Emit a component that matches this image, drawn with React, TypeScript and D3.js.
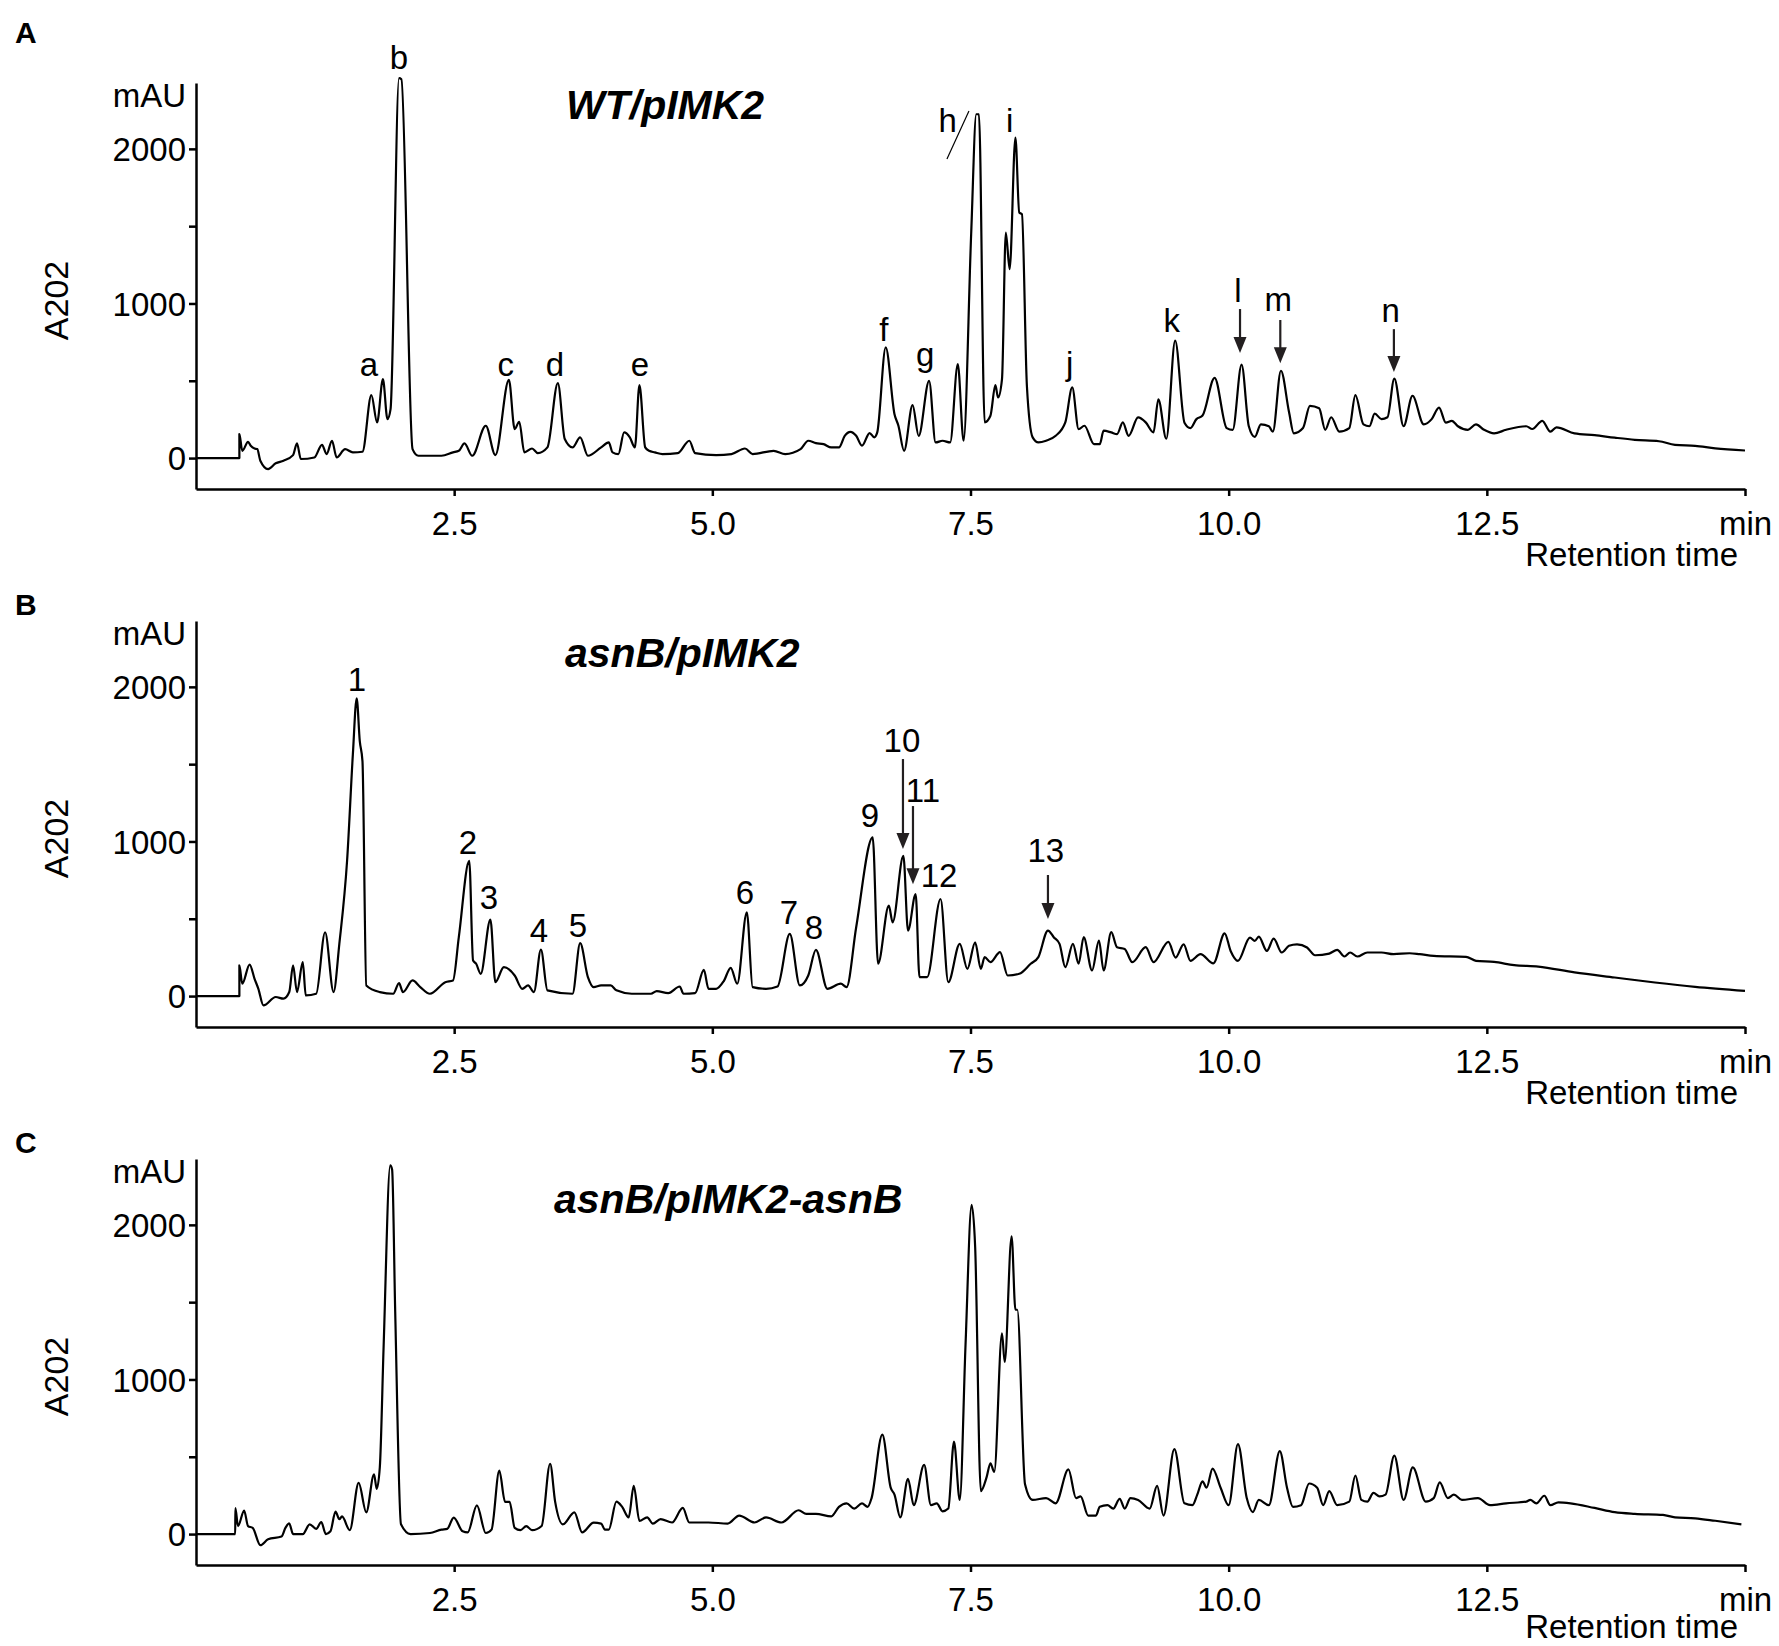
import React, { useEffect, useRef } from "react";
import * as d3 from "d3";

const W = 1779;
const H = 1646;
const FONT = "'Liberation Sans', Arial, Helvetica, sans-serif";

// [retention time (min), absorbance (mAU)]
const wtTrace: [number, number][] = [
  [0, 0], [0.42, 0], [0.42, 155], [0.448, 47], [0.504, 105], [0.53, 80], [0.567, 62], [0.593, 58],
  [0.623, -17], [0.698, -71], [0.772, -34], [0.847, -17], [0.94, 19], [0.978, 95], [1.015, -6],
  [1.146, 4], [1.22, 86], [1.265, 26], [1.317, 112], [1.362, 4], [1.444, 58], [1.519, 37], [1.612, 41],
  [1.698, 407], [1.754, 230], [1.81, 511], [1.854, 252], [1.884, 317], [1.966, 2457], [1.989, 2450],
  [2.097, 58], [2.153, 15], [2.377, 15], [2.489, 37], [2.545, 47], [2.6, 95], [2.675, 15], [2.806, 209],
  [2.899, 19], [3.03, 506], [3.086, 187], [3.13, 235], [3.18, 37], [3.254, 62], [3.31, 32], [3.403, 69],
  [3.504, 485], [3.571, 123], [3.646, 69], [3.72, 134], [3.795, 15], [3.923, 69], [3.997, 101],
  [4.034, 37], [4.09, 26], [4.146, 166], [4.201, 134], [4.25, 69], [4.294, 472], [4.35, 69], [4.387, 47],
  [4.443, 37], [4.517, 26], [4.666, 32], [4.777, 112], [4.833, 32], [5.037, 19], [5.186, 26], [5.316, 62],
  [5.39, 26], [5.594, 47], [5.706, 26], [5.854, 58], [5.929, 112], [6.003, 97], [6.077, 90], [6.152, 69],
  [6.226, 69], [6.282, 144], [6.337, 170], [6.393, 144], [6.449, 80], [6.523, 162], [6.568, 134],
  [6.597, 166], [6.679, 716], [6.764, 284], [6.802, 209], [6.857, 47], [6.939, 343], [6.998, 144],
  [7.099, 500], [7.162, 101], [7.229, 112], [7.303, 101], [7.377, 608], [7.433, 112], [7.507, 1459],
  [7.556, 2224], [7.582, 2224], [7.637, 231], [7.693, 274], [7.741, 472], [7.767, 392], [7.805, 511],
  [7.842, 1459], [7.879, 1222], [7.935, 2073], [7.972, 1588], [7.998, 1578], [8.046, 468], [8.102, 134],
  [8.158, 101], [8.232, 112], [8.325, 144], [8.418, 231], [8.485, 457], [8.547, 187], [8.603, 209],
  [8.696, 90], [8.752, 90], [8.789, 177], [8.863, 166], [8.919, 155], [8.975, 231], [9.031, 144],
  [9.123, 263], [9.197, 231], [9.272, 166], [9.319, 380], [9.396, 125], [9.482, 760], [9.572, 229],
  [9.63, 194], [9.688, 252], [9.747, 275], [9.864, 519], [9.981, 194], [10.039, 183], [10.125, 604],
  [10.195, 206], [10.253, 137], [10.312, 218], [10.389, 206], [10.428, 171], [10.506, 565], [10.584, 299],
  [10.631, 160], [10.72, 194], [10.787, 338], [10.876, 322], [10.935, 183], [10.993, 264], [11.071, 171],
  [11.168, 194], [11.227, 407], [11.305, 218], [11.363, 206], [11.414, 287], [11.48, 252], [11.538, 264],
  [11.604, 514], [11.694, 206], [11.78, 403], [11.889, 218], [11.966, 252], [12.037, 326], [12.103, 229],
  [12.161, 241], [12.22, 206], [12.317, 183], [12.395, 218], [12.473, 183], [12.57, 160], [12.687, 183],
  [12.882, 206], [12.94, 188], [13.037, 241], [13.115, 171], [13.174, 199], [13.349, 160], [13.544, 148],
  [13.738, 132], [13.933, 118], [14.167, 109], [14.322, 86], [14.517, 79], [14.712, 63], [15.0, 49],
];

const asnBTrace: [number, number][] = [
  [0, 0], [0.42, 0], [0.42, 198], [0.448, 80], [0.519, 204], [0.567, 112], [0.604, 47], [0.653, -60],
  [0.772, -6], [0.847, -17], [0.903, 26], [0.94, 198], [0.978, 26], [1.034, 219], [1.063, 4], [1.164, 15],
  [1.25, 413], [1.332, 26], [1.388, 338], [1.463, 875], [1.519, 1563], [1.556, 1925], [1.586, 1649],
  [1.612, 1520], [1.649, 69], [1.78, 26], [1.91, 15], [1.966, 84], [2.004, 26], [2.097, 101], [2.172, 58],
  [2.265, 15], [2.414, 90], [2.489, 101], [2.545, 381], [2.646, 875], [2.683, 230], [2.713, 209],
  [2.757, 144], [2.851, 495], [2.899, 90], [2.981, 187], [3.086, 133], [3.16, 47], [3.216, 69], [3.272, 26],
  [3.34, 301], [3.403, 37], [3.646, 15], [3.72, 342], [3.795, 123], [3.851, 58], [3.923, 69], [4.016, 69],
  [4.071, 37], [4.22, 15], [4.406, 15], [4.461, 32], [4.573, 19], [4.684, 62], [4.721, 15], [4.833, 19],
  [4.918, 170], [4.963, 47], [5.037, 47], [5.111, 97], [5.178, 183], [5.241, 80], [5.334, 542], [5.39, 58],
  [5.52, 47], [5.631, 62], [5.75, 402], [5.847, 69], [5.929, 133], [6.003, 299], [6.114, 47], [6.244, 80],
  [6.3, 58], [6.393, 445], [6.553, 1026], [6.605, 209], [6.709, 585], [6.746, 477], [6.85, 907],
  [6.895, 424], [6.969, 660], [7.006, 123], [7.08, 123], [7.21, 628], [7.285, 90], [7.396, 338],
  [7.47, 176], [7.545, 348], [7.6, 176], [7.637, 252], [7.693, 219], [7.786, 284], [7.86, 133],
  [7.972, 144], [8.083, 209], [8.157, 252], [8.25, 424], [8.306, 381], [8.362, 338], [8.418, 187],
  [8.492, 338], [8.547, 209], [8.596, 381], [8.677, 166], [8.744, 359], [8.789, 166], [8.863, 413],
  [8.919, 316], [8.993, 305], [9.067, 219], [9.197, 316], [9.272, 219], [9.416, 350], [9.486, 249],
  [9.564, 335], [9.63, 228], [9.727, 271], [9.852, 211], [9.961, 406], [10.019, 292], [10.09, 228],
  [10.206, 378], [10.253, 357], [10.292, 385], [10.37, 292], [10.436, 372], [10.514, 282], [10.584, 325],
  [10.662, 335], [10.759, 314], [10.837, 264], [10.974, 275], [11.051, 299], [11.121, 256], [11.176, 282],
  [11.246, 256], [11.343, 282], [11.48, 282], [11.597, 271], [11.752, 277], [11.85, 271], [11.986, 260],
  [12.298, 254], [12.395, 228], [12.57, 221], [12.765, 200], [12.998, 191], [13.349, 153], [13.738, 120],
  [14.128, 88], [14.517, 60], [15.0, 34],
];

const compTrace: [number, number][] = [
  [0, 0], [0.38, 0], [0.381, 168], [0.407, 52], [0.466, 152], [0.504, 52], [0.549, 40], [0.623, -72],
  [0.698, -34], [0.828, -16], [0.866, 40], [0.903, 69], [0.94, 0], [1.034, 0], [1.101, 63], [1.164, 34],
  [1.213, 78], [1.257, 0], [1.302, 18], [1.351, 146], [1.388, 96], [1.414, 114], [1.489, 25], [1.575, 331],
  [1.649, 141], [1.724, 387], [1.75, 293], [1.78, 432], [1.817, 1216], [1.881, 2385], [1.899, 2358],
  [1.929, 1440], [1.985, 63], [2.078, 0], [2.265, 7], [2.377, 29], [2.433, 34], [2.496, 107], [2.582, 18],
  [2.631, 11], [2.72, 186], [2.806, 7], [2.862, 29], [2.937, 410], [2.993, 208], [3.037, 208], [3.086, 40],
  [3.142, 25], [3.198, 52], [3.254, 25], [3.347, 52], [3.429, 455], [3.478, 208], [3.552, 63], [3.664, 141],
  [3.739, 11], [3.851, 74], [3.923, 68], [3.96, 29], [3.997, 29], [4.071, 210], [4.127, 176], [4.19, 108],
  [4.239, 312], [4.294, 86], [4.369, 108], [4.424, 68], [4.499, 97], [4.61, 75], [4.714, 169], [4.777, 75],
  [4.963, 75], [5.149, 68], [5.26, 120], [5.409, 75], [5.52, 108], [5.669, 75], [5.836, 154], [5.91, 131],
  [6.003, 131], [6.152, 115], [6.226, 176], [6.3, 199], [6.374, 165], [6.449, 199], [6.504, 176],
  [6.542, 233], [6.646, 643], [6.727, 300], [6.764, 255], [6.82, 108], [6.895, 357], [6.95, 187],
  [7.051, 447], [7.117, 187], [7.173, 199], [7.229, 147], [7.285, 165], [7.34, 598], [7.396, 221],
  [7.452, 1226], [7.511, 2129], [7.545, 1858], [7.6, 278], [7.656, 368], [7.693, 458], [7.73, 402],
  [7.805, 1298], [7.831, 1113], [7.898, 1926], [7.935, 1451], [7.953, 1451], [8.028, 323], [8.102, 221],
  [8.232, 233], [8.325, 199], [8.448, 418], [8.522, 233], [8.566, 244], [8.64, 120], [8.715, 120],
  [8.752, 176], [8.826, 187], [8.882, 165], [8.945, 228], [8.993, 165], [9.049, 233], [9.123, 221],
  [9.235, 165], [9.307, 312], [9.369, 120], [9.474, 549], [9.572, 199], [9.65, 187], [9.696, 255],
  [9.747, 341], [9.786, 300], [9.844, 424], [9.922, 300], [10.0, 187], [10.09, 582], [10.175, 233],
  [10.234, 142], [10.292, 221], [10.389, 187], [10.495, 537], [10.565, 300], [10.623, 176], [10.701, 187],
  [10.779, 327], [10.857, 300], [10.915, 187], [10.974, 278], [11.051, 187], [11.168, 210], [11.227, 379],
  [11.285, 221], [11.343, 210], [11.402, 266], [11.46, 244], [11.519, 255], [11.604, 508], [11.694, 221],
  [11.783, 431], [11.908, 210], [11.986, 233], [12.044, 334], [12.122, 233], [12.181, 255], [12.259, 221],
  [12.414, 233], [12.531, 187], [12.687, 199], [12.882, 210], [12.921, 221], [12.979, 199], [13.057, 248],
  [13.115, 187], [13.193, 205], [13.31, 199], [13.544, 169], [13.738, 142], [13.933, 131], [14.206, 124],
  [14.322, 108], [14.517, 102], [14.712, 86], [14.965, 63],
];

const yTicks = [0, 1000, 2000];
const yMinorTicks = [500, 1500];
const xTicks = [2.5, 5, 7.5, 10, 12.5, 15];
const xTickLabels = ["2.5", "5.0", "7.5", "10.0", "12.5", "min"];

// peak labels: text, retention time, label baseline (mAU)
const wtLabels = [
  { text: "a", t: 1.675, v: 530 }, { text: "b", t: 1.966, v: 2516 }, { text: "c", t: 3.0, v: 530 },
  { text: "d", t: 3.476, v: 530 }, { text: "e", t: 4.3, v: 530 }, { text: "f", t: 6.66, v: 757 },
  { text: "g", t: 7.06, v: 595 }, { text: "h", t: 7.28, v: 2109 }, { text: "i", t: 7.88, v: 2109 },
  { text: "j", t: 8.46, v: 537 }, { text: "k", t: 9.45, v: 815 }, { text: "l", t: 10.09, v: 1009 },
  { text: "m", t: 10.48, v: 951 }, { text: "n", t: 11.57, v: 880 },
];
const wtArrows = [
  { t: 10.11, from: 964, to: 679 },
  { t: 10.5, from: 893, to: 614 },
  { t: 11.6, from: 834, to: 556 },
];
const wtLeader = { t1: 7.272, v1: 1934, t2: 7.485, v2: 2245 };

const asnBLabels = [
  { text: "1", t: 1.559, v: 1973 }, { text: "2", t: 2.634, v: 918 }, { text: "3", t: 2.837, v: 563 },
  { text: "4", t: 3.321, v: 349 }, { text: "5", t: 3.699, v: 382 }, { text: "6", t: 5.316, v: 595 },
  { text: "7", t: 5.742, v: 466 }, { text: "8", t: 5.984, v: 369 }, { text: "9", t: 6.527, v: 1093 },
  { text: "10", t: 6.836, v: 1578 }, { text: "11", t: 7.04, v: 1255 }, { text: "12", t: 7.195, v: 705 },
  { text: "13", t: 8.23, v: 867 },
];
const asnBArrows = [
  { t: 6.846, from: 1533, to: 951 },
  { t: 6.943, from: 1229, to: 724 },
  { t: 8.25, from: 783, to: 498 },
];

const panels = [
  { letter: "A", title: "WT/pIMK2", trace: wtTrace, labels: wtLabels, arrows: wtArrows, leader: wtLeader,
    top: 83, letterY: 43, titleX: 566, titleY: 119, rtY: 77 },
  { letter: "B", title: "asnB/pIMK2", trace: asnBTrace, labels: asnBLabels, arrows: asnBArrows, leader: null,
    top: 621, letterY: 615, titleX: 565, titleY: 667, rtY: 77 },
  { letter: "C", title: "asnB/pIMK2-asnB", trace: compTrace, labels: [], arrows: [], leader: null,
    top: 1159, letterY: 1153, titleX: 554, titleY: 1213, rtY: 73 },
];

const PLOT_H = 406;
const AXIS_X = 196;
const AXIS_END = 1745;

const App = () => {
  const svgRef = useRef(null);

  useEffect(() => {
    document.body.style.margin = "0";
    const svg = d3.select(svgRef.current);
    svg.selectAll("*").remove();

    const x = d3.scaleLinear().domain([0, 15]).range([AXIS_X, AXIS_END]);

    panels.forEach((p) => {
      const y = d3.scaleLinear().domain([-200, 2426]).range([p.top + PLOT_H, p.top]);
      const g = svg.append("g");
      const baseY = p.top + PLOT_H;

      // panel letter
      g.append("text").attr("x", 15).attr("y", p.letterY)
        .attr("font-size", 30).attr("font-weight", "bold").attr("font-family", FONT).text(p.letter);

      // y axis
      const yAxis = d3.axisLeft(y).tickValues(yTicks.concat(yMinorTicks)).tickSize(7).tickSizeOuter(0)
        .tickFormat((d: any) => (yTicks.includes(d) ? String(d) : ""));
      const ya = g.append("g").attr("transform", `translate(${AXIS_X},0)`).call(yAxis);
      ya.select(".domain").attr("stroke", "#000").attr("stroke-width", 2.5);
      ya.selectAll(".tick line").attr("stroke", "#000").attr("stroke-width", 2.5);
      ya.selectAll(".tick text").attr("font-size", 33).attr("font-family", FONT).attr("fill", "#000")
        .attr("x", -10).attr("dy", "0.36em");

      // x axis
      const xAxis = d3.axisBottom(x).tickValues(xTicks).tickSize(7).tickSizeOuter(0)
        .tickFormat((d: any, i: number) => xTickLabels[i]);
      const xa = g.append("g").attr("transform", `translate(0,${baseY})`).call(xAxis);
      xa.select(".domain").attr("stroke", "#000").attr("stroke-width", 2.5);
      xa.selectAll(".tick line").attr("stroke", "#000").attr("stroke-width", 2.5);
      xa.selectAll(".tick text").attr("font-size", 33).attr("font-family", FONT).attr("fill", "#000")
        .attr("y", 46).attr("dy", 0);

      // axis titles
      g.append("text").attr("x", 186).attr("y", p.top + 24).attr("text-anchor", "end")
        .attr("font-size", 33).attr("font-family", FONT).text("mAU");
      g.append("text").attr("transform", `translate(68,${y(1000) - 3}) rotate(-90)`)
        .attr("text-anchor", "middle").attr("font-size", 34).attr("font-family", FONT).text("A202");
      g.append("text").attr("x", 1738).attr("y", baseY + p.rtY).attr("text-anchor", "end")
        .attr("font-size", 33).attr("font-family", FONT).text("Retention time");

      // title
      g.append("text").attr("x", p.titleX).attr("y", p.titleY).attr("font-size", 41)
        .attr("font-weight", "bold").attr("font-style", "italic").attr("font-family", FONT).text(p.title);

      // trace
      const line = d3.line<[number, number]>().x((d) => x(d[0])).y((d) => y(d[1])).curve(d3.curveMonotoneX);
      g.append("path").attr("d", line(p.trace)).attr("fill", "none").attr("stroke", "#000")
        .attr("stroke-width", 2.2).attr("stroke-linejoin", "round");

      // peak labels
      g.selectAll(".lbl").data(p.labels).join("text").attr("class", "lbl")
        .attr("x", (d: any) => x(d.t)).attr("y", (d: any) => y(d.v)).attr("text-anchor", "middle")
        .attr("font-size", 33).attr("font-family", FONT).text((d: any) => d.text);

      // arrows
      p.arrows.forEach((a) => {
        const ax = x(a.t);
        const y1 = y(a.from);
        const y2 = y(a.to);
        g.append("line").attr("x1", ax).attr("x2", ax).attr("y1", y1).attr("y2", y2 - 10)
          .attr("stroke", "#231f20").attr("stroke-width", 2.2);
        g.append("path").attr("d", `M${ax - 6.5},${y2 - 16} L${ax + 6.5},${y2 - 16} L${ax},${y2} Z`)
          .attr("fill", "#231f20");
      });

      if (p.leader) {
        const l = p.leader;
        g.append("line").attr("x1", x(l.t1)).attr("y1", y(l.v1)).attr("x2", x(l.t2)).attr("y2", y(l.v2))
          .attr("stroke", "#000").attr("stroke-width", 1.2);
      }
    });
  }, []);

  return <svg ref={svgRef} width={W} height={H} style={{ display: "block", background: "#fff" }} />;
};

export default App;
